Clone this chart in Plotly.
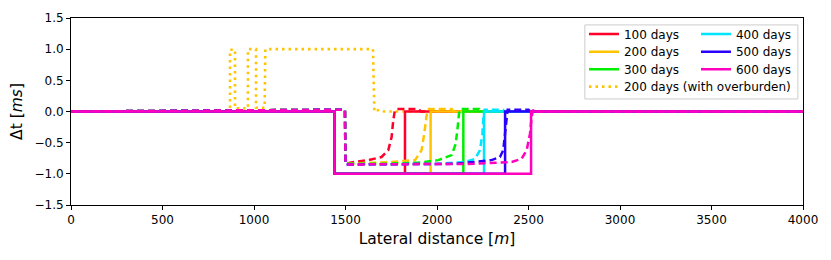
import plotly.graph_objects as go

# ---------------- data ----------------
labels = ["100 days", "200 days", "300 days", "400 days", "500 days", "600 days"]
colors = ["#ff0029", "#ffc400", "#00ee00", "#00e5ff", "#2b00ff", "#ff00bf"]

# solid lines: sharp fronts (x in m, y in ms)
solid_x = [
    [0, 1440, 1440, 1825, 1825, 4000],
    [0, 1440, 1440, 1965, 1965, 4000],
    [0, 1440, 1440, 2144, 2144, 4000],
    [0, 1440, 1440, 2257, 2257, 4000],
    [0, 1440, 1440, 2372, 2372, 4000],
    [0, 1440, 1440, 2514, 2514, 4000],
]
solid_y = [0, 0, -1.0, -1.0, 0, 0]

# dashed lines: smooth fronts
dash_x = [
    [0, 1470, 1497, 1500, 1525, 1625, 1697, 1734, 1752, 1761, 1770, 1780, 1900, 1910, 4000],
    [0, 1470, 1497, 1500, 1600, 1750, 1880, 1916, 1930, 1940, 1947, 1955, 2080, 2090, 4000],
    [0, 1470, 1497, 1500, 1700, 1900, 2007, 2080, 2102, 2113, 2120, 2127, 2230, 2240, 4000],
    [0, 1470, 1497, 1500, 1800, 2000, 2153, 2208, 2235, 2248, 2255, 2260, 2360, 2370, 4000],
    [0, 1470, 1497, 1500, 1800, 2100, 2298, 2344, 2362, 2372, 2381, 2386, 2500, 2510, 4000],
    [0, 1470, 1497, 1500, 1800, 2200, 2408, 2462, 2490, 2508, 2517, 2520, 2525, 2530, 4000],
]
dash_y = [
    [0, 0.03, 0.03, -0.84, -0.82, -0.78, -0.73, -0.62, -0.41, -0.14, 0.02, 0.04, 0.04, 0, 0],
    [0, 0.03, 0.03, -0.84, -0.83, -0.81, -0.78, -0.62, -0.36, -0.09, 0.02, 0.04, 0.04, 0, 0],
    [0, 0.03, 0.03, -0.84, -0.84, -0.82, -0.78, -0.70, -0.52, -0.25, -0.04, 0.04, 0.04, 0, 0],
    [0, 0.03, 0.03, -0.85, -0.85, -0.84, -0.81, -0.76, -0.62, -0.36, -0.04, 0.03, 0.03, 0, 0],
    [0, 0.03, 0.03, -0.85, -0.85, -0.84, -0.78, -0.73, -0.62, -0.36, -0.04, 0.03, 0.03, 0, 0],
    [0, 0.03, 0.03, -0.85, -0.85, -0.84, -0.81, -0.76, -0.62, -0.36, -0.09, 0.0, 0.03, 0, 0],
]

# 200 days with overburden (dotted)
ob_label = "200 days (with overburden)"
ob_x = [0, 869, 869, 896, 896, 967, 967, 1011, 1011, 1058, 1062, 1650, 1658, 1665, 1700, 1710, 4000]
ob_y = [0, 0, 0.99, 0.99, 0.05, 0.05, 1.0, 1.0, 0.06, 0.06, 1.0, 1.0, 0.0, 0.02, 0.02, 0, 0]

x_ticks = [0, 500, 1000, 1500, 2000, 2500, 3000, 3500, 4000]
y_ticks = [-1.5, -1.0, -0.5, 0.0, 0.5, 1.0, 1.5]
y_ticktext = ["−1.5", "−1.0", "−0.5", "0.0", "0.5", "1.0", "1.5"]

# ---------------- figure ----------------
FONT = "DejaVu Sans"
fig = go.Figure()

fig.add_hline(y=0, line=dict(color="#999999", width=1), layer="below")

# legend rows: row1 = 100/400, row2 = 200/500, row3 = 300/600, row4 = overburden
row_legends = ["legend", "legend2", "legend3"]

fig.add_trace(go.Scatter(x=ob_x, y=ob_y, mode="lines", name=ob_label,
                         line=dict(color="#ffc400", width=2.6, dash="2.5px,4px"),
                         legend="legend4"))

for i in range(6):
    fig.add_trace(go.Scatter(x=solid_x[i], y=solid_y, mode="lines", name=labels[i],
                             line=dict(color=colors[i], width=2.5),
                             legend=row_legends[i % 3], legendrank=i))
    fig.add_trace(go.Scatter(x=dash_x[i], y=dash_y[i], mode="lines", showlegend=False,
                             line=dict(color=colors[i], width=2.5, dash="7px,4px")))

leg_common = dict(bgcolor="rgba(0,0,0,0)", borderwidth=0, font=dict(family=FONT, size=12, color="black"),
                  itemwidth=30, orientation="h", traceorder="normal",
                  xanchor="left", yanchor="middle", x=0.7008)
row_y = [0.914, 0.820, 0.726, 0.633]
fig.update_layout(
    width=831, height=260,
    margin=dict(l=71, r=28, t=18, b=55, autoexpand=False),
    plot_bgcolor="white", paper_bgcolor="white",
    font=dict(family=FONT, size=12, color="black"),
    legend=dict(y=row_y[0], entrywidth=67, **leg_common),
    legend2=dict(y=row_y[1], entrywidth=67, **leg_common),
    legend3=dict(y=row_y[2], entrywidth=67, **leg_common),
    legend4=dict(y=row_y[3], **leg_common),
    xaxis=dict(range=[0, 4000], tickvals=x_ticks, ticktext=[str(v) for v in x_ticks],
               showline=True, linecolor="black", linewidth=1, mirror=True, automargin=False,
               ticks="outside", ticklen=4, tickcolor="black", showgrid=False, zeroline=False,
               tickfont=dict(size=12),
               title=dict(text="Lateral distance [<i>m</i>]", font=dict(size=15.5), standoff=6)),
    yaxis=dict(range=[-1.5, 1.5], tickvals=y_ticks, ticktext=y_ticktext,
               showline=True, linecolor="black", linewidth=1, mirror=True, automargin=False,
               ticks="outside", ticklen=4, tickcolor="black", showgrid=False, zeroline=False,
               tickfont=dict(size=12),
               title=dict(text="Δt [<i>ms</i>]", font=dict(size=15.5), standoff=8)),
    shapes=[dict(type="rect", xref="paper", yref="paper", x0=0.702, x1=0.993, y0=0.567, y1=0.963,
                 line=dict(color="#cccccc", width=1), fillcolor="rgba(255,255,255,0.8)", layer="above")],
)

fig.write_html("out.html", config={"displayModeBar": False},
               post_script="document.body.style.margin='0px';")
